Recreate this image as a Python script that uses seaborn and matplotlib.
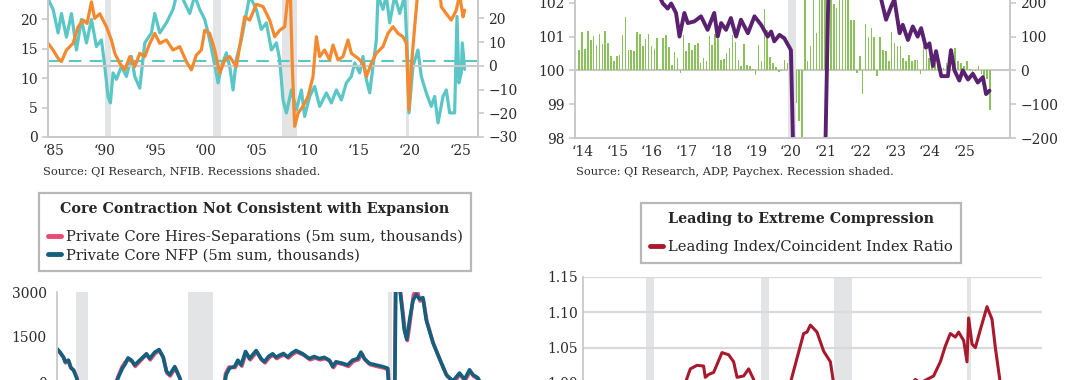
import numpy as np
import pandas as pd
import seaborn as sns
import matplotlib.pyplot as plt

sns.set_theme(style='white')
plt.rcParams['font.family'] = ['DejaVu Serif']

# ---------------- data ----------------
# top left: NFIB (teal, left axis) and second NFIB series (orange, right axis)
teal_yr = [1984.5, 1985.0, 1985.49, 1985.82, 1986.31, 1986.8, 1987.29, 1987.78, 1988.27, 1988.76,
           1989.25, 1989.74, 1990.07, 1990.39, 1990.62, 1990.88, 1991.21, 1991.7, 1992.19, 1992.68,
           1993.01, 1993.5, 1993.99, 1994.64, 1994.97, 1995.46, 1996.11, 1996.76, 1997.09, 1997.58,
           1998.4, 1998.89, 1999.38, 1999.87, 2000.2, 2000.69, 2001.18, 2001.51, 2001.99, 2002.32,
           2002.65, 2002.97, 2003.46, 2003.95, 2004.28, 2004.93, 2005.42, 2005.92, 2006.41, 2006.9,
           2007.22, 2007.55, 2007.88, 2008.37, 2008.86, 2009.35, 2009.67, 2010.16, 2010.65, 2011.14,
           2011.8, 2012.29, 2012.78, 2013.27, 2013.76, 2014.25, 2014.58, 2015.07, 2015.39, 2015.72,
           2016.05, 2016.37, 2016.7, 2016.86, 2017.35, 2017.68, 2018.01, 2018.5, 2018.99, 2019.48,
           2019.8, 2019.9, 2020.29, 2020.78, 2021.11, 2021.6, 2022.09, 2022.42, 2022.75, 2023.24,
           2023.56, 2023.89, 2024.38, 2024.61, 2024.8, 2025.03, 2025.13, 2025.36]
teal_val = [23.5, 21.7, 17.7, 21, 17, 21, 14.8, 20, 16, 20,
            15.4, 16.5, 12, 6.9, 5.8, 10.9, 9.8, 12, 10.3, 13.7,
            10.3, 8.3, 16, 17.7, 21, 17.7, 19.4, 21.7, 24, 24,
            21, 24, 21.7, 20, 17.7, 13.7, 9.2, 12, 14.3, 12,
            8, 13.2, 16.5, 21, 24, 21.7, 18.3, 19.4, 14.8, 16,
            13.2, 6.3, 4.1, 8, 4.6, 8, 3.5, 6.9, 8.6, 5.2,
            7.5, 5.8, 8, 6.3, 9.2, 10.3, 12.6, 10.9, 13.7, 9.8,
            7.5, 12, 16.5, 24, 21.7, 24, 19.4, 24, 21, 24,
            12, 4.1, 12, 14.8, 10.3, 7.5, 5.2, 6.9, 2.4, 6.9,
            8, 4.1, 4.1, 20.5, 9.2, 10.9, 16, 11.5]
teal_avg = 13

orange_yr = [1984.51, 1985.0, 1985.49, 1985.82, 1986.31, 1986.96, 1987.45, 1987.94, 1988.33, 1988.76,
             1989.08, 1989.58, 1990.23, 1990.72, 1991.05, 1991.54, 1992.03, 1992.52, 1993.01, 1993.5,
             1993.99, 1994.48, 1994.97, 1995.46, 1996.11, 1996.76, 1997.42, 1998.07, 1998.56, 1999.05,
             1999.54, 1999.87, 2000.36, 2000.85, 2001.34, 2001.83, 2002.32, 2002.97, 2003.46, 2003.79,
             2004.28, 2004.93, 2005.59, 2006.24, 2006.73, 2007.22, 2007.71, 2008.04, 2008.27, 2008.46,
             2008.69, 2009.02, 2009.51, 2010.0, 2010.49, 2010.82, 2011.14, 2011.63, 2012.12, 2012.45,
             2012.94, 2013.43, 2013.92, 2014.25, 2014.9, 2015.39, 2015.72, 2016.21, 2016.7, 2017.35,
             2017.84, 2018.33, 2018.82, 2019.31, 2019.64, 2019.9, 2020.13, 2020.46, 2020.78, 2021.93,
             2022.91, 2023.07, 2023.56, 2024.05, 2024.54, 2024.87, 2025.2, 2025.36]
orange_val = [9.5, 6.7, 3.2, 1.8, 6.7, 9.5, 16.5, 19.3, 17.9, 27,
              20, 22, 16.5, 10.9, 5.3, 1.1, -1.7, 3.9, -0.3, 5.3,
              3.9, 9.5, 13.7, 9.5, 10.9, 6.7, 8.1, 1.8, -1.7, 4.6,
              6.7, 15, 13.7, 6.7, -3.1, 2.5, 3.9, -0.3, 12.3, 20.7,
              19.3, 26, 25, 19.3, 12.3, 15, 16.5, 30, 30, -0.3,
              -25.5, -20, -17, -12.9, -4.5, 12.3, 3.9, 6.7, 2.5, 8.8,
              2.5, 3.9, 10.9, 5.3, 3.2, 1.1, -4.5, 1.1, 5.3, 8.1,
              13.7, 16.5, 13.7, 12.3, 9.5, -18.5, -0.3, 16.5, 32, 33,
              32, 24.9, 22, 19.3, 23.5, 30, 20.7, 23.5]
tl_recessions = [(1990.07, 1990.72), (2000.69, 2001.44), (2007.48, 2008.95), (2019.64, 2019.9)]

# top right: index (purple, left axis) and monthly change (green bars, right axis)
purple_yr = [2016.0, 2016.16, 2016.31, 2016.45, 2016.55, 2016.69, 2016.79, 2016.93, 2017.03, 2017.22,
             2017.41, 2017.6, 2017.79, 2017.89, 2017.99, 2018.13, 2018.27, 2018.42, 2018.56, 2018.76,
             2018.95, 2019.14, 2019.33, 2019.43, 2019.52, 2019.67, 2019.81, 2020.0, 2020.1, 2020.96,
             2021.11, 2022.55, 2022.6, 2022.74, 2022.89, 2022.98, 2023.13, 2023.22, 2023.37, 2023.51,
             2023.65, 2023.75, 2023.89, 2023.99, 2024.09, 2024.18, 2024.33, 2024.52, 2024.61, 2024.71,
             2024.85, 2024.95, 2025.1, 2025.24, 2025.38, 2025.53, 2025.62, 2025.72]
purple_val = [102.6, 102.3, 101.98, 101.83, 101.98, 101.7, 101.0, 101.7, 101.4, 101.45,
              101.6, 101.2, 101.7, 101.0, 101.4, 101.2, 101.55, 101.0, 101.5, 101.1,
              101.6, 101.35, 101.0, 101.15, 100.86, 101.05, 100.95, 100.6, 96, 96,
              104, 104, 102.1, 101.5, 101.9, 102.1, 101.1, 101.35, 100.9, 101.3,
              101.0, 101.25, 100.67, 100.8, 100.13, 100.57, 99.83, 99.83, 100.6, 100.0,
              99.7, 100.0, 99.73, 99.9, 99.64, 99.8, 99.3, 99.4]
green_val = [61, 114, 63, 117, 90, 102, 76, 107, 79, 116,
             80, 42, 29, 42, 45, 105, 158, 61, 61, 56,
             113, 107, 71, 92, 107, 71, 63, 97, 5, 95,
             105, 69, 17, 54, 37, -7, 105, 56, 80, 61,
             76, 82, 22, 37, 29, 102, 76, 108, 93, 32,
             34, 51, 66, 105, 85, 30, 13, 78, 15, 13,
             5, -15, 76, 29, 182, 119, 39, 22, 10, -4,
             -2, 30, 22, 85,
             -130, -95, -150, -450, 300, 27, 71, 300, 110,
             400, 350, 320, 330, 310, 195, 185, 300, 320, 340, 310,
             150, 150, -9, 42, -70, 137, 100, 124, 100, -16, 100, 61,
             56, 27, 114, 80, 71, 71, 37, 27, 45,
             27, 32, 32, -12, 71, 61, 37, 27, 22, 13, 8, 8, 22, 35, 56, 66, 27, 22, 13, 27,
             5, -7, -2, 13, -12, -16, -26, -118]
green_start = 2013.9
tr_recessions = [(2019.91, 2020.15)]

# bottom left: 5m sums, thousands
nfp_yr = [2000.02, 2000.18, 2000.38, 2000.48, 2000.68, 2000.82, 2000.98, 2001.18, 2001.38, 2002.5,
          2003.3, 2003.67, 2003.93, 2004.1, 2004.27, 2004.47, 2004.67, 2004.97, 2005.2, 2005.37,
          2005.57, 2005.87, 2006.13, 2006.37, 2006.57, 2006.77, 2007.07, 2007.37, 2007.57, 2008.5,
          2009.3, 2009.9, 2010.16, 2010.36, 2010.66, 2010.86, 2011.06, 2011.32, 2011.56, 2011.96,
          2012.25, 2012.45, 2012.7, 2012.95, 2013.15, 2013.35, 2013.6, 2013.85, 2014.1, 2014.35,
          2014.75, 2015.15, 2015.45, 2015.75, 2016.05, 2016.35, 2016.55, 2016.75, 2017.15, 2017.45,
          2017.75, 2018.05, 2018.25, 2018.45, 2018.75, 2019.15, 2019.55, 2019.85, 2019.95, 2020.15,
          2020.35, 2020.55, 2020.75, 2020.85, 2021.0, 2021.17, 2021.37, 2021.57, 2021.77, 2021.97,
          2022.17, 2022.57, 2022.97, 2023.37, 2023.77, 2024.17, 2024.47, 2024.77, 2024.97, 2025.27,
          2025.47]
nfp_val = [1102, 995, 835, 674, 728, 482, 407, 139, -600, -900,
           -500, 139, 460, 600, 803, 728, 567, 728, 850, 942,
           781, 995, 1081, 835, 353, 246, 514, 139, -400, -2500,
           -2800, -600, 246, 460, 514, 728, 567, 1017, 781, 1049,
           781, 674, 850, 942, 820, 888, 950, 835, 960, 1049,
           942, 781, 850, 781, 820, 728, 514, 674, 621, 567,
           728, 781, 995, 781, 621, 567, 514, 460, -400, -8000,
           3500, 3300, 2279, 1744, 1423, 2065, 2707, 2921, 2761, 2814,
           2065, 1316, 781, 246, 32, 300, 86, 407, 246, 139,
           -75]
jolts_yr = [2000.05, 2000.22, 2000.42, 2000.52, 2000.72, 2000.86, 2001.02, 2001.22, 2001.42, 2002.5,
            2003.3, 2003.62, 2003.9, 2004.08, 2004.24, 2004.5, 2004.7, 2005.0, 2005.22, 2005.4,
            2005.6, 2005.9, 2006.16, 2006.4, 2006.6, 2006.8, 2007.1, 2007.4, 2007.6, 2008.5,
            2009.3, 2009.9, 2010.12, 2010.33, 2010.69, 2010.9, 2011.1, 2011.35, 2011.6, 2012.0,
            2012.28, 2012.5, 2012.74, 2013.0, 2013.2, 2013.4, 2013.64, 2013.9, 2014.14, 2014.4,
            2014.8, 2015.2, 2015.5, 2015.8, 2016.1, 2016.4, 2016.6, 2016.8, 2017.2, 2017.5,
            2017.8, 2018.1, 2018.3, 2018.5, 2018.8, 2019.2, 2019.6, 2019.88, 2019.97, 2020.15,
            2020.33, 2020.58, 2020.8, 2020.9, 2021.04, 2021.2, 2021.4, 2021.6, 2021.8, 2022.0,
            2022.22, 2022.62, 2023.02, 2023.42, 2023.82, 2024.2, 2024.5, 2024.82, 2025.0, 2025.3,
            2025.5]
jolts_val = [1050, 950, 800, 640, 690, 450, 380, 100, -650, -950,
             -550, 120, 500, 650, 760, 690, 520, 700, 830, 900,
             740, 960, 1040, 800, 300, 200, 470, 100, -450, -2600,
             -2900, -650, 280, 500, 480, 690, 530, 980, 740, 1000,
             740, 640, 810, 900, 780, 850, 900, 800, 920, 1000,
             900, 740, 800, 740, 780, 690, 480, 640, 580, 520,
             690, 740, 950, 740, 580, 520, 470, 420, -450, -8200,
             3600, 3200, 2200, 1650, 1380, 2000, 2900, 3100, 2700, 2750,
             2000, 1250, 700, 200, -20, 250, 40, 360, 200, 90,
             -120]
bl_recessions = [(2001.14, 2001.86), (2007.84, 2009.34), (2019.88, 2020.12)]

# bottom right: leading / coincident ratio
ratio_yr = [1985.0, 1987.0, 1989.0, 1990.8, 1992.5, 1994.26, 1994.73, 1995.36, 1995.97, 1996.13,
            1996.44, 1996.91, 1997.69, 1998.31, 1998.78, 1999.1, 1999.72, 2000.18, 2000.65, 2001.27,
            2002.5, 2004.08, 2004.7, 2005.32, 2005.64, 2005.95, 2006.57, 2007.19, 2007.82, 2008.12,
            2009.0, 2012.0, 2015.0, 2015.76, 2016.23, 2017.47, 2018.1, 2018.56, 2019.03, 2019.5,
            2019.81, 2020.28, 2020.59, 2020.74, 2021.06, 2021.37, 2021.83, 2022.46, 2022.93, 2023.24,
            2023.7, 2024.5, 2025.5]
ratio_val = [0.97, 0.98, 0.96, 0.95, 0.97, 1.0, 1.02, 1.025, 1.024, 1.008,
             1.012, 1.015, 1.043, 1.04, 1.03, 1.008, 1.01, 1.02, 1.005, 0.985,
             0.96, 1.0, 1.035, 1.07, 1.072, 1.082, 1.072, 1.045, 1.03, 1.0,
             0.95, 0.97, 0.99, 1.005, 1.0, 1.01, 1.03, 1.052, 1.07, 1.065,
             1.072, 1.06, 1.03, 1.092, 1.055, 1.05, 1.075, 1.108, 1.09, 1.05,
             1.0, 0.96, 0.94]
br_recessions = [(1990.55, 1991.3), (2001.35, 2002.1), (2008.2, 2009.8), (2020.6, 2021.0)]

# ---------------- style ----------------
GREY = '#C9C9C9'
SHADE = '#E3E4E6'
TXT = '#2B2B2B'
TEAL, ORANGE = '#5BC6C6', '#F5892F'
PURPLE, GREEN = '#5A2170', '#8BC15A'
PINK, NAVY = '#EA4A70', '#13607E'
RED = '#A9192D'
W, H = 1080, 380


def px_axes(fig, left, top, right, bottom):
    return fig.add_axes([left / W, 1 - bottom / H, (right - left) / W, (bottom - top) / H])


def style(ax, sides):
    for s in ['left', 'right', 'top', 'bottom']:
        ax.spines[s].set_visible(s in sides)
        ax.spines[s].set_color(GREY)
        ax.spines[s].set_linewidth(1.3)
    ax.tick_params(colors=GREY, labelcolor=TXT, labelsize=10, length=4, width=1.2)
    ax.grid(False)


def boxed_legend(ax, title, x, y):
    leg = ax.legend(title=title, loc='upper left', bbox_to_anchor=(x / W, 1 - y / H),
                    bbox_transform=fig.transFigure, borderaxespad=0,
                    fontsize=10.6, title_fontproperties={'weight': 'bold', 'size': 10.3},
                    handlelength=0.9, handletextpad=0.3, labelspacing=0.3, borderpad=0.6,
                    fancybox=False, frameon=True, edgecolor='#A6A6A6')
    leg.get_frame().set_linewidth(1.6)
    leg._legend_box.sep = 10
    for h in leg.get_lines():
        h.set_linewidth(3.5)
    return leg


fig = plt.figure(figsize=(10.8, 3.8), dpi=100)

# ---- top left ----
ax = px_axes(fig, 48, -10, 478, 137)
for a, b in tl_recessions:
    ax.axvspan(a, b, color=SHADE, lw=0, zorder=0)
sns.lineplot(x=teal_yr, y=teal_val, ax=ax, color=TEAL, lw=2.3, sort=False, legend=False)
ax.axhline(teal_avg, color=TEAL, lw=1.5, ls=(0, (6, 4)))
ax.set_xlim(1984.5, 2026.67)
ax.set_ylim(0, 25)
ax.set_yticks([0, 5, 10, 15, 20])
ax.set_xticks(range(1985, 2026, 5))
ax.set_xticklabels(['\u2018%02d' % (y % 100) for y in range(1985, 2026, 5)])
style(ax, ['left', 'bottom', 'right'])
ax.tick_params(axis='x', length=0, pad=5)
ax2 = ax.twinx()
ax2.axhline(0, color=GREY, lw=1.5, zorder=1)
sns.lineplot(x=orange_yr, y=orange_val, ax=ax2, color=ORANGE, lw=2.3, sort=False, legend=False)
ax2.set_ylim(-30, 32)
ax2.set_yticks([-30, -20, -10, 0, 10, 20])
style(ax2, ['left', 'bottom', 'right'])
ax2.set_ylabel('')
fig.text(43 / W, 1 - 172 / H, 'Source: QI Research, NFIB. Recessions shaded.',
         fontsize=8.2, color=TXT, va='center')

# ---- top right ----
ax = px_axes(fig, 575, -31, 1010, 138)
for a, b in tr_recessions:
    ax.axvspan(a, b, color=SHADE, lw=0, zorder=0)
ax.set_xlim(2013.78, 2026.31)
ax.set_ylim(98, 103)
ax.set_yticks([98, 99, 100, 101, 102])
ax.set_xticks(range(2014, 2026))
ax.set_xticklabels(['\u2018%02d' % (y % 100) for y in range(2014, 2026)])
style(ax, ['left', 'bottom', 'right'])
ax.tick_params(axis='x', length=0, pad=5)
ax2 = ax.twinx()
ax2.axhline(0, color=GREY, lw=1.5, zorder=1)
bar_x = green_start + np.arange(len(green_val)) / 12
ax2.bar(bar_x, green_val, width=0.045, color=GREEN, lw=0, zorder=2)
ax2.set_ylim(-200, 300)
ax2.set_yticks([-200, -100, 0, 100, 200])
style(ax2, ['left', 'bottom', 'right'])
ax.set_zorder(ax2.get_zorder() + 1)
ax.patch.set_visible(False)
sns.lineplot(x=purple_yr, y=purple_val, ax=ax, color=PURPLE, lw=2.8, sort=False, legend=False)
fig.text(576 / W, 1 - 172 / H, 'Source: QI Research, ADP, Paychex. Recession shaded.',
         fontsize=8.2, color=TXT, va='center')

# ---- bottom left ----
ax = px_axes(fig, 57, 292, 490, 427)
for a, b in bl_recessions:
    ax.axvspan(a, b, color=SHADE, lw=0, zorder=0)
sns.lineplot(x=jolts_yr, y=jolts_val, ax=ax, color=PINK, lw=2.6, sort=False,
             label='Private Core Hires-Separations (5m sum, thousands)')
sns.lineplot(x=nfp_yr, y=nfp_val, ax=ax, color=NAVY, lw=2.6, sort=False,
             label='Private Core NFP (5m sum, thousands)')
ax.set_xlim(2000, 2026)
ax.set_ylim(-1500, 3000)
ax.set_yticks([0, 1500, 3000])
style(ax, ['left'])
ax.set_xticks([])
boxed_legend(ax, 'Core Contraction Not Consistent with Expansion', 39, 193)

# ---- bottom right ----
ax = px_axes(fig, 583, 277, 1042, 489)
for a, b in br_recessions:
    ax.axvspan(a, b, color=SHADE, lw=0, zorder=0)
for v in [1.0, 1.05, 1.10, 1.15]:
    ax.axhline(v, color='#DADADA', lw=1.6, zorder=0.5)
sns.lineplot(x=ratio_yr, y=ratio_val, ax=ax, color=RED, lw=2.2, sort=False,
             label='Leading Index/Coincident Index Ratio')
ax.set_xlim(1984.7, 2027.6)
ax.set_ylim(0.85, 1.15)
ax.set_yticks([1.0, 1.05, 1.10, 1.15])
ax.set_yticklabels(['%.2f' % v for v in [1.0, 1.05, 1.10, 1.15]])
style(ax, ['left'])
ax.tick_params(axis='y', length=0)
ax.set_xticks([])
boxed_legend(ax, 'Leading to Extreme Compression', 641, 203)

fig.savefig('out.png', dpi=100)
